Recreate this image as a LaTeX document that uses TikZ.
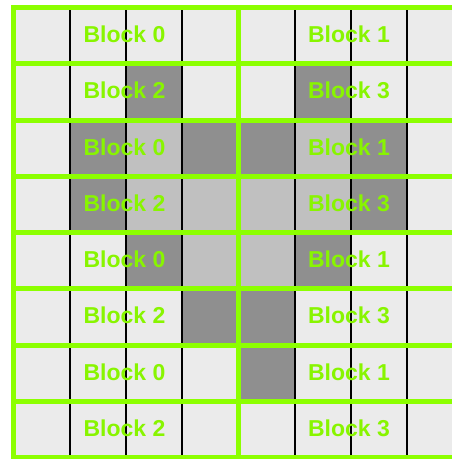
\documentclass[tikz,border=0pt]{standalone}
\usepackage{fontspec}
\setmainfont{Liberation Sans}
\definecolor{lightcell}{RGB}{235,235,235}
\definecolor{midcell}{RGB}{192,192,192}
\definecolor{darkcell}{RGB}{143,143,143}
\definecolor{gridgreen}{RGB}{140,255,0}
\definecolor{labelgreen}{RGB}{136,245,0}
\tikzset{
  cellfill/.style={fill=#1, draw=none},
  thinline/.style={draw=black, line width=1.8pt},
  greenline/.style={draw=gridgreen, line width=5pt, line join=round},
  blocklabel/.style={text=labelgreen, inner sep=0pt, font=\fontsize{23}{27}\selectfont\bfseries}
}
\begin{document}
\begin{tikzpicture}[x=1pt,y=-1pt]
\useasboundingbox (0,0) rectangle (452,459);
\clip (0,0) rectangle (452,459);
\def\cs{56.25}
% light background of the grid
\fill[cellfill=lightcell] (13.5,7.5) rectangle (463.5,457.5);
% dark cells
\foreach \c/\r in {2/1,5/1,1/2,3/2,4/2,6/2,1/3,6/3,2/4,5/4,3/5,4/5,4/6}
  \fill[cellfill=darkcell] ({13.5+\cs*\c},{7.5+\cs*\r}) rectangle +(\cs,\cs);
% mid cells
\foreach \c/\r in {2/2,5/2,2/3,3/3,4/3,5/3,3/4,4/4}
  \fill[cellfill=midcell] ({13.5+\cs*\c},{7.5+\cs*\r}) rectangle +(\cs,\cs);
% thin black column lines
\foreach \c in {1,2,3,5,6,7}
  \draw[thinline] ({13.5+\cs*\c},7.5) -- ({13.5+\cs*\c},460);
% labels
\foreach \r in {0,...,7} {
  \pgfmathtruncatemacro{\la}{mod(\r,2)==0 ? 0 : 2}
  \pgfmathtruncatemacro{\ra}{mod(\r,2)==0 ? 1 : 3}
  \node[blocklabel] (L\r) at (124.5,{7.5+\cs*\r+28.125-1.3}) {Block \la};
  \node[blocklabel] (R\r) at (349,{7.5+\cs*\r+28.125-1.3}) {Block \ra};
}
% green lines
\foreach \r in {0,...,8}
  \draw[greenline] (11,{7.5+\cs*\r}) -- (470,{7.5+\cs*\r});
\draw[greenline] (13.5,470) -- (13.5,7.5) -- (470,7.5);
\draw[greenline] (238.5,7.5) -- (238.5,470);
\end{tikzpicture}
\end{document}
